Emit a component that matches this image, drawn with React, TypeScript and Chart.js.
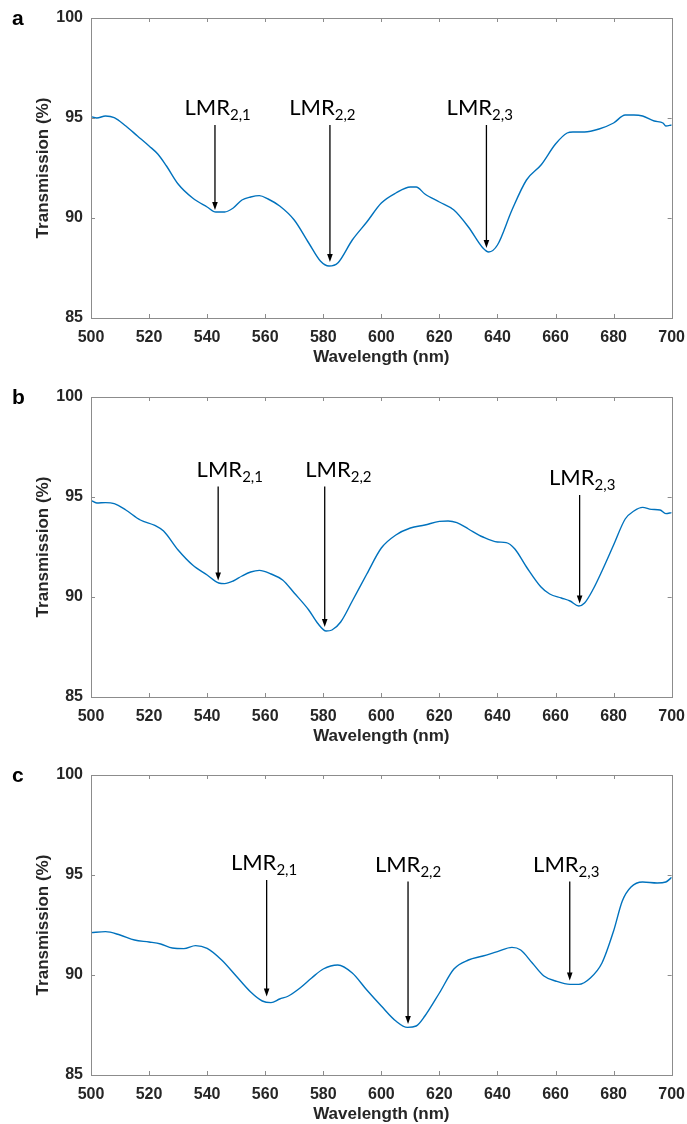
import React, { useEffect, useRef } from "react";
import { Chart, registerables } from "chart.js";

Chart.register(...registerables);

// ---------- data ----------
const wavelengthA = [500, 502, 505, 508, 512, 516, 520, 523, 526, 530, 535, 540, 543, 546, 549, 552, 555, 558, 561, 565, 570, 575, 579, 582, 585, 590, 595, 600, 605, 610, 612, 615, 620, 625, 630, 635, 637, 640, 645, 650, 655, 660, 664, 666, 670, 675, 680, 684, 687, 690, 694, 697, 698, 700];
const transmissionA = [95.07, 95.0, 95.1, 95.02, 94.6, 94.1, 93.6, 93.2, 92.6, 91.7, 91.0, 90.55, 90.3, 90.3, 90.5, 90.9, 91.05, 91.12, 90.95, 90.6, 89.9, 88.75, 87.85, 87.6, 87.75, 88.9, 89.8, 90.75, 91.25, 91.55, 91.55, 91.2, 90.8, 90.4, 89.55, 88.5, 88.3, 88.65, 90.4, 91.9, 92.65, 93.7, 94.25, 94.3, 94.3, 94.45, 94.75, 95.15, 95.15, 95.1, 94.85, 94.75, 94.6, 94.65];

const wavelengthB = [500, 502, 505, 508, 512, 517, 522, 525, 530, 535, 540, 544, 546, 549, 552, 555, 558, 562, 566, 570, 575, 578, 581, 583, 586, 590, 595, 600, 605, 610, 615, 620, 623, 626, 630, 635, 640, 643, 646, 650, 655, 658, 662, 665, 668, 670, 673, 676, 680, 684, 687, 690, 693, 696, 698, 700];
const transmissionB = [94.83, 94.7, 94.72, 94.67, 94.35, 93.85, 93.58, 93.3, 92.35, 91.6, 91.1, 90.7, 90.67, 90.8, 91.05, 91.25, 91.33, 91.15, 90.85, 90.2, 89.35, 88.7, 88.3, 88.35, 88.75, 89.8, 91.15, 92.45, 93.1, 93.45, 93.6, 93.78, 93.8, 93.72, 93.4, 93.0, 92.75, 92.72, 92.4, 91.5, 90.5, 90.15, 89.95, 89.8, 89.55, 89.7, 90.4, 91.3, 92.6, 93.9, 94.3, 94.48, 94.38, 94.35, 94.17, 94.22];

const wavelengthC = [500, 505, 510, 515, 520, 524, 528, 532, 536, 540, 545, 550, 555, 559, 562, 565, 568, 572, 576, 580, 585, 590, 595, 600, 605, 609, 612, 615, 620, 625, 630, 635, 640, 645, 648, 652, 656, 660, 665, 668, 672, 676, 680, 683, 686, 690, 695, 698, 700];
const transmissionC = [92.12, 92.17, 92.0, 91.75, 91.65, 91.55, 91.35, 91.32, 91.47, 91.33, 90.75, 89.95, 89.15, 88.7, 88.62, 88.8, 88.95, 89.35, 89.85, 90.3, 90.5, 90.1, 89.25, 88.45, 87.7, 87.38, 87.45, 87.95, 89.1, 90.3, 90.75, 90.95, 91.17, 91.38, 91.25, 90.6, 89.95, 89.7, 89.53, 89.53, 89.85, 90.6, 92.2, 93.7, 94.4, 94.65, 94.6, 94.65, 94.88];

// annotation arrows: wavelength of arrow, arrow start (top) value, tip value, label centre wavelength
const subscripts = ["2,1", "2,2", "2,3"];
const arrowXA = [542.7, 582.3, 636.2];
const arrowTopA = [94.65, 94.65, 94.65];
const arrowTipA = [90.4, 87.8, 88.5];
const labelXA = [543.6, 579.7, 633.9];

const arrowXB = [543.8, 580.5, 668.3];
const arrowTopB = [95.52, 95.52, 95.1];
const arrowTipB = [90.83, 88.5, 89.67];
const labelXB = [547.8, 585.2, 669.2];

const arrowXC = [560.5, 609.2, 664.9];
const arrowTopC = [94.75, 94.67, 94.67];
const arrowTipC = [88.92, 87.55, 89.72];
const labelXC = [559.6, 609.2, 663.7];

const xTicks = [500, 520, 540, 560, 580, 600, 620, 640, 660, 680, 700];
const yTicks = [85, 90, 95, 100];
const panelLetters = ["a", "b", "c"];

const xTitle = "Wavelength (nm)";
const yTitle = "Transmission (%)";

const AXIS_FONT = "'Liberation Sans', Arial, sans-serif";
const LABEL_FONT = "Lato, 'Open Sans', sans-serif";
const TEXT_COLOR = "#262626";
const FRAME_COLOR = "#8c8c8c";

type PanelProps = {
  letter: string;
  xs: number[];
  ys: number[];
  arrowX: number[];
  arrowTop: number[];
  arrowTip: number[];
  labelX: number[];
  top: number;
};

function Panel(props: PanelProps) {
  const ref = useRef<HTMLCanvasElement | null>(null);
  useEffect(() => {
    const canvas = ref.current;
    if (!canvas) return;
    const points = props.xs.map((x, i) => ({ x, y: props.ys[i] }));

    const decor = {
      id: "decor",
      afterDatasetsDraw(chart: any) {
        const ctx = chart.ctx as CanvasRenderingContext2D;
        const xs = chart.scales.x;
        const ys = chart.scales.y;
        const area = chart.chartArea;
        ctx.save();
        // frame
        ctx.strokeStyle = FRAME_COLOR;
        ctx.lineWidth = 1;
        ctx.strokeRect(Math.round(area.left) + 0.5, Math.round(area.top) + 0.5, Math.round(area.right - area.left), Math.round(area.bottom - area.top));
        // inward ticks
        const tl = 4;
        ctx.beginPath();
        xTicks.forEach((t) => {
          const px = Math.round(xs.getPixelForValue(t)) + 0.5;
          ctx.moveTo(px, area.bottom);
          ctx.lineTo(px, area.bottom - tl);
          ctx.moveTo(px, area.top);
          ctx.lineTo(px, area.top + tl);
        });
        yTicks.forEach((t) => {
          const py = Math.round(ys.getPixelForValue(t)) + 0.5;
          ctx.moveTo(area.left, py);
          ctx.lineTo(area.left + tl, py);
          ctx.moveTo(area.right, py);
          ctx.lineTo(area.right - tl, py);
        });
        ctx.stroke();

        // arrows + labels
        props.arrowX.forEach((ax, i) => {
          const px = xs.getPixelForValue(ax);
          const y0 = ys.getPixelForValue(props.arrowTop[i]);
          const y1 = ys.getPixelForValue(props.arrowTip[i]);
          ctx.strokeStyle = "#000";
          ctx.fillStyle = "#000";
          ctx.lineWidth = 1.3;
          ctx.beginPath();
          ctx.moveTo(px, y0);
          ctx.lineTo(px, y1 - 6);
          ctx.stroke();
          ctx.beginPath();
          ctx.moveTo(px - 2.8, y1 - 8);
          ctx.lineTo(px + 2.8, y1 - 8);
          ctx.lineTo(px, y1);
          ctx.closePath();
          ctx.fill();

          ctx.font = `400 22px ${LABEL_FONT}`;
          const mainW = ctx.measureText("LMR").width;
          ctx.font = `400 15px ${LABEL_FONT}`;
          const subW = ctx.measureText(subscripts[i]).width;
          const cx = xs.getPixelForValue(props.labelX[i]);
          const lx = cx - (mainW + subW) / 2;
          const base = y0 - 10;
          ctx.fillStyle = "#000";
          ctx.textBaseline = "alphabetic";
          ctx.textAlign = "left";
          ctx.font = `400 22px ${LABEL_FONT}`;
          ctx.fillText("LMR", lx, base);
          ctx.font = `400 15px ${LABEL_FONT}`;
          ctx.fillText(subscripts[i], lx + mainW, base + 5);
        });

        // panel letter
        ctx.fillStyle = "#000";
        ctx.font = `bold 21px ${AXIS_FONT}`;
        ctx.textAlign = "left";
        ctx.textBaseline = "alphabetic";
        ctx.fillText(props.letter, 12, 25);
        ctx.restore();
      },
    };

    const chart = new Chart(canvas, {
      type: "line",
      data: {
        datasets: [
          {
            data: points,
            borderColor: "#0072BD",
            borderWidth: 1.4,
            pointRadius: 0,
            cubicInterpolationMode: "monotone",
            fill: false,
          },
        ],
      },
      options: {
        animation: false,
        responsive: false,
        devicePixelRatio: 1,
        layout: { padding: { top: 18, right: 15, left: 0, bottom: 0 } },
        plugins: { legend: { display: false }, tooltip: { enabled: false } },
        scales: {
          x: {
            type: "linear",
            min: 500,
            max: 700,
            afterBuildTicks: (scale: any) => {
              scale.ticks = xTicks.map((v) => ({ value: v }));
            },
            afterFit: (scale: any) => {
              scale.height = 49;
            },
            grid: { display: false },
            border: { display: false },
            ticks: {
              padding: 2,
              color: TEXT_COLOR,
              font: { family: AXIS_FONT, size: 16, weight: "bold" },
              maxRotation: 0,
              autoSkip: false,
            },
            title: {
              display: true,
              text: xTitle,
              color: TEXT_COLOR,
              font: { family: AXIS_FONT, size: 17, weight: "bold" },
              padding: { top: 0, bottom: -1 },
            },
          },
          y: {
            type: "linear",
            min: 85,
            max: 100,
            afterBuildTicks: (scale: any) => {
              scale.ticks = yTicks.map((v) => ({ value: v }));
            },
            afterFit: (scale: any) => {
              scale.width = 91;
            },
            grid: { display: false },
            border: { display: false },
            ticks: {
              padding: 0,
              color: TEXT_COLOR,
              font: { family: AXIS_FONT, size: 16, weight: "bold" },
              autoSkip: false,
            },
            title: {
              display: true,
              text: yTitle,
              color: TEXT_COLOR,
              font: { family: AXIS_FONT, size: 17, weight: "bold" },
              padding: { top: 33, bottom: 0 },
            },
          },
        },
      },
      plugins: [decor],
    } as any);
    return () => chart.destroy();
  }, []);

  return (
    <canvas
      ref={ref}
      width={687}
      height={367}
      style={{ position: "absolute", left: 0, top: props.top, width: 687, height: 367 }}
    />
  );
}

export default function App() {
  return (
    <div style={{ position: "absolute", left: 0, top: 0, width: 687, height: 1124, background: "#fff", overflow: "hidden" }}>
      <Panel letter={panelLetters[0]} xs={wavelengthA} ys={transmissionA} arrowX={arrowXA} arrowTop={arrowTopA} arrowTip={arrowTipA} labelX={labelXA} top={0} />
      <Panel letter={panelLetters[1]} xs={wavelengthB} ys={transmissionB} arrowX={arrowXB} arrowTop={arrowTopB} arrowTip={arrowTipB} labelX={labelXB} top={379} />
      <Panel letter={panelLetters[2]} xs={wavelengthC} ys={transmissionC} arrowX={arrowXC} arrowTop={arrowTopC} arrowTip={arrowTipC} labelX={labelXC} top={757} />
    </div>
  );
}
